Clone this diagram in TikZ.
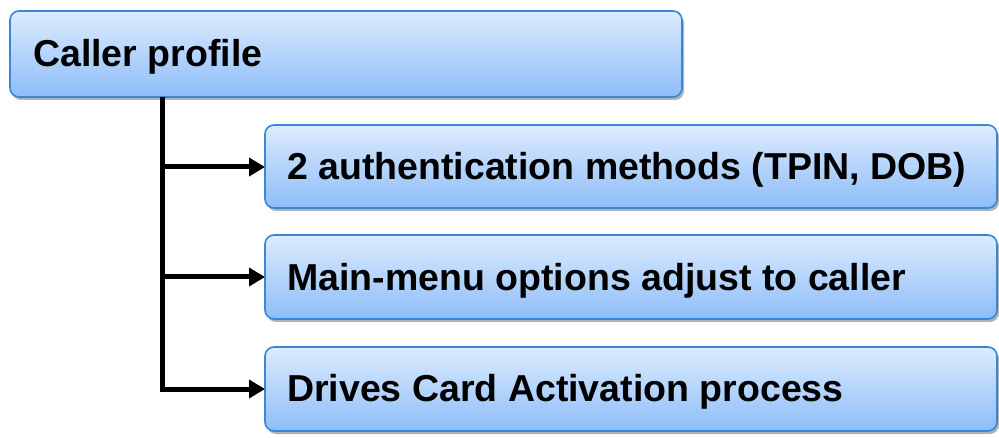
\documentclass[tikz,border=0pt]{standalone}
\usepackage{fontspec}
\setmainfont{Liberation Sans}
\usetikzlibrary{shadows,arrows.meta}

\definecolor{boxtop}{HTML}{DDEBFE}
\definecolor{boxbot}{HTML}{8DBDF9}
\definecolor{boxedge}{HTML}{3B87D6}

\tikzset{
  itembox/.style={
    draw=boxedge, line width=1.6pt, rounded corners=9pt,
    top color=boxtop, bottom color=boxbot,
    drop shadow={shadow xshift=2pt, shadow yshift=-3pt, fill=black!30, opacity=1}
  },
  label/.style={anchor=base west, inner sep=0pt, text=black,
    font=\fontsize{37.5}{42}\selectfont\bfseries},
  conn/.style={line width=5pt, -{Triangle[length=16pt,width=18pt]}},
  connshadow/.style={line width=3pt, draw=black!28, -{Triangle[length=16pt,width=16pt]}},
  x=1pt, y=-1pt
}

\begin{document}
\begin{tikzpicture}
\useasboundingbox (0,0) rectangle (999,438);

% rounded boxes
\path[itembox] (10,11) rectangle (682,97);
\path[itembox] (265,125) rectangle (997,208);
\path[itembox] (265,235) rectangle (997,319);
\path[itembox] (265,347) rectangle (997,431);

% labels
\node[label] (top) at (33,67) {Caller profile};
\node[label] (a) at (287,180) {2 authentication methods (TPIN, DOB)};
\node[label] (b) at (287,291) {Main-menu options adjust to caller};
\node[label] (c) at (287,402) {Drives Card Activation process};

\coordinate (trunk) at (162,97);
\coordinate (ta) at (265,167);
\coordinate (tb) at (265,277);
\coordinate (tc) at (265,389);

% connector shadows
\begin{scope}[shift={(2,3)}]
  \draw[connshadow] (ta -| trunk) -- (ta);
  \draw[connshadow] (tb -| trunk) -- (tb);
  \draw[connshadow] (trunk) -- (tc -| trunk) -- (tc);
\end{scope}

% connectors
\draw[conn] (ta -| trunk) -- (ta);
\draw[conn] (tb -| trunk) -- (tb);
\draw[conn] (trunk) -- (tc -| trunk) -- (tc);
\end{tikzpicture}
\end{document}
